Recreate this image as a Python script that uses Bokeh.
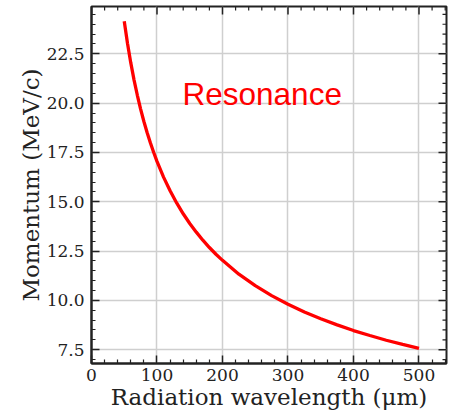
import math
from bokeh.plotting import figure
from bokeh.models import FixedTicker, NumeralTickFormatter, Label, Range1d
from bokeh.embed import file_html
from bokeh.resources import INLINE

# data
wavelength_um = [50, 55, 60, 65, 70, 75, 80, 85, 90, 95, 100, 110, 120, 130, 140, 150, 160, 170,
                 180, 190, 200, 225, 250, 275, 300, 325, 350, 375, 400, 425, 450, 475, 500]
momentum_mev = [24.15, 23.02, 22.04, 21.17, 20.40, 19.70, 19.07, 18.50, 17.98, 17.50, 17.05,
                16.25, 15.56, 14.94, 14.39, 13.90, 13.46, 13.05, 12.68, 12.34, 12.03, 11.33,
                10.75, 10.24, 9.80, 9.41, 9.07, 8.76, 8.47, 8.22, 7.98, 7.77, 7.57]

x_ticks = [0, 100, 200, 300, 400, 500]
x_minor = [20, 40, 60, 80, 120, 140, 160, 180, 220, 240, 260, 280, 320, 340, 360, 380,
           420, 440, 460, 480, 520, 540]
y_ticks = [7.5, 10.0, 12.5, 15.0, 17.5, 20.0, 22.5]
y_minor = [7.0, 8.0, 8.5, 9.0, 9.5, 10.5, 11.0, 11.5, 12.0, 13.0, 13.5, 14.0, 14.5, 15.5,
           16.0, 16.5, 17.0, 18.0, 18.5, 19.0, 19.5, 20.5, 21.0, 21.5, 22.0, 23.0, 23.5,
           24.0, 24.5]

X0, X1 = 0, 542
Y0, Y1 = 6.8, 24.9
SERIF = "DejaVu Serif"
INK = "#222222"

p = figure(width=454, height=412, output_backend="svg", toolbar_location=None,
           x_range=Range1d(X0, X1), y_range=Range1d(Y0, Y1),
           min_border_left=91, min_border_right=8, min_border_top=6, min_border_bottom=46)

p.outline_line_color = INK
p.outline_line_width = 2
p.background_fill_color = "white"
p.border_fill_color = "white"

p.xgrid.ticker = FixedTicker(ticks=x_ticks)
p.ygrid.ticker = FixedTicker(ticks=y_ticks)
p.grid.grid_line_color = "#cfcfcf"
p.grid.grid_line_width = 1.5

p.line(wavelength_um, momentum_mev, line_color="#ff0000", line_width=3.3)

def style_axis(ax, ticks, minor):
    ax.ticker = FixedTicker(ticks=ticks, minor_ticks=minor)
    ax.major_tick_in = 8
    ax.major_tick_out = 0
    ax.minor_tick_in = 4
    ax.minor_tick_out = 0
    ax.major_tick_line_color = INK
    ax.minor_tick_line_color = INK
    ax.major_tick_line_width = 1.5
    ax.minor_tick_line_width = 1.2
    ax.axis_line_color = INK
    ax.axis_line_width = 2
    ax.major_label_text_font = SERIF
    ax.major_label_text_font_size = "17px"
    ax.major_label_text_color = INK
    ax.axis_label_text_font = SERIF
    ax.axis_label_text_font_size = "23px"
    ax.axis_label_text_font_style = "normal"
    ax.axis_label_text_color = INK

xa = p.xaxis[0]
style_axis(xa, x_ticks, x_minor)
xa.axis_label = "Radiation wavelength (μm)"
xa.major_label_standoff = 5
xa.axis_label_standoff = 0

ya = p.yaxis[0]
style_axis(ya, y_ticks, y_minor)
ya.axis_label = "Momentum (MeV/c)"
ya.formatter = NumeralTickFormatter(format="0.0")
ya.major_label_standoff = 7
ya.axis_label_standoff = 0

# ticks on the top and right spines (pointing inward)
p.ray(x=x_ticks, y=[Y1] * len(x_ticks), length=8, length_units="screen",
      angle=-math.pi / 2, line_color=INK, line_width=1.5)
p.ray(x=x_minor, y=[Y1] * len(x_minor), length=4, length_units="screen",
      angle=-math.pi / 2, line_color=INK, line_width=1.2)
p.ray(x=[X1] * len(y_ticks), y=y_ticks, length=8, length_units="screen",
      angle=math.pi, line_color=INK, line_width=1.5)
p.ray(x=[X1] * len(y_minor), y=y_minor, length=4, length_units="screen",
      angle=math.pi, line_color=INK, line_width=1.2)

p.add_layout(Label(x=139, y=20.45, text="Resonance", text_color="#ff0000",
                   text_font="Liberation Sans", text_font_size="31.5px",
                   text_baseline="alphabetic"))

open("out.html", "w").write(file_html(p, INLINE))
